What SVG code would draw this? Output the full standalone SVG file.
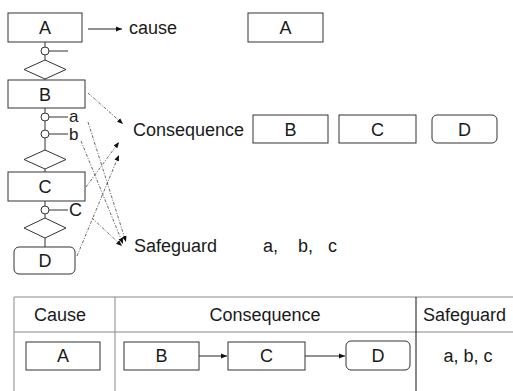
<svg xmlns="http://www.w3.org/2000/svg" width="513" height="391" viewBox="0 0 513 391">
  <style>
    text { font-family: "Liberation Sans", Arial, sans-serif; font-size: 18px; fill: #1a1a1a; }
    .c { text-anchor: middle; }
    .tag { font-size: 17px; }
    .box { fill: #fff; stroke: #333; stroke-width: 1; }
    .ln { stroke: #333; stroke-width: 1; fill: none; }
    .knot { fill: #fff; stroke: #333; stroke-width: 1; }
    .dash { stroke: #444; stroke-width: 0.8; fill: none; stroke-dasharray: 3 1.5 1 1.5; marker-end: url(#tip); }
    .solid { stroke: #222; stroke-width: 1; fill: none; marker-end: url(#tip); }
    .grid { stroke: #888; stroke-width: 1; }
    .gridk { stroke: #111; stroke-width: 1; }
  </style>
  <defs>
    <marker id="tip" viewBox="0 0 10 10" refX="10" refY="5" markerWidth="6" markerHeight="6" markerUnits="userSpaceOnUse" orient="auto">
      <path d="M0,1 L10,5 L0,9 z" fill="#111"/>
    </marker>
  </defs>

  <!-- left chain: A, B, C, D with safeguard knots and gates -->
  <g id="chain-links">
    <line class="ln" x1="45" y1="42" x2="45" y2="47"/>
    <line class="ln" x1="45" y1="55" x2="45" y2="60"/>
    <line class="ln" x1="49" y1="51" x2="68" y2="51"/>
    <line class="ln" x1="45" y1="79" x2="45" y2="80"/>
    <line class="ln" x1="45" y1="108" x2="45" y2="113"/>
    <line class="ln" x1="49" y1="117" x2="68" y2="117"/>
    <line class="ln" x1="45" y1="121" x2="45" y2="130"/>
    <line class="ln" x1="49" y1="134" x2="68" y2="134"/>
    <line class="ln" x1="45" y1="138" x2="45" y2="150"/>
    <line class="ln" x1="45" y1="169" x2="45" y2="172"/>
    <line class="ln" x1="45" y1="201" x2="45" y2="206"/>
    <line class="ln" x1="49" y1="210" x2="68" y2="210"/>
    <line class="ln" x1="45" y1="214" x2="45" y2="218"/>
    <line class="ln" x1="45" y1="238" x2="45" y2="247"/>
  </g>

  <g id="node-A">
    <rect class="box" x="8" y="13" width="74" height="29"/>
    <text class="c" x="45" y="34">A</text>
  </g>
  <g id="knot-1"><circle class="knot" cx="45" cy="51" r="4"/></g>
  <g id="gate-1"><polygon class="box" points="45,60 66,69.5 45,79 24,69.5"/></g>

  <g id="node-B">
    <rect class="box" x="8" y="80" width="77" height="28"/>
    <text class="c" x="45" y="101">B</text>
  </g>
  <g id="knot-a">
    <circle class="knot" cx="45" cy="117" r="4"/>
    <text class="tag" x="69" y="122">a</text>
  </g>
  <g id="knot-b">
    <circle class="knot" cx="45" cy="134" r="4"/>
    <text class="tag" x="69" y="140">b</text>
  </g>
  <g id="gate-2"><polygon class="box" points="45,150 66,159.5 45,169 24,159.5"/></g>

  <g id="node-C">
    <rect class="box" x="8" y="172" width="77" height="29"/>
    <text class="c" x="45" y="193">C</text>
  </g>
  <g id="knot-c">
    <circle class="knot" cx="45" cy="210" r="4"/>
    <text x="69" y="216">C</text>
  </g>
  <g id="gate-3"><polygon class="box" points="45,218 66,228 45,238 24,228"/></g>

  <g id="node-D">
    <rect class="box" x="14" y="247" width="61" height="27" rx="5"/>
    <text class="c" x="45" y="267">D</text>
  </g>

  <!-- labels and sorted groups -->
  <g id="label-cause"><text x="129" y="34">cause</text></g>
  <g id="label-consequence"><text x="133" y="136">Consequence</text></g>
  <g id="label-safeguard"><text x="134" y="252">Safeguard</text></g>

  <g id="group-A">
    <rect class="box" x="248" y="13" width="75" height="29"/>
    <text class="c" x="285.5" y="34">A</text>
  </g>
  <g id="group-B">
    <rect class="box" x="253" y="115" width="75" height="28"/>
    <text class="c" x="290.5" y="136">B</text>
  </g>
  <g id="group-C">
    <rect class="box" x="339" y="115" width="77" height="28"/>
    <text class="c" x="377.5" y="136">C</text>
  </g>
  <g id="group-D">
    <rect class="box" x="432" y="115" width="65" height="28" rx="5"/>
    <text class="c" x="464.5" y="136">D</text>
  </g>
  <g id="group-abc">
    <text y="252"><tspan x="263">a,</tspan><tspan x="298">b,</tspan><tspan x="328">c</tspan></text>
  </g>

  <!-- connectors -->
  <g id="connectors">
    <line class="solid" x1="88" y1="29" x2="122" y2="29"/>
    <line class="dash" x1="88" y1="93" x2="123" y2="124"/>
    <line class="dash" x1="88" y1="122" x2="126" y2="242"/>
    <line class="dash" x1="81" y1="141" x2="123" y2="244"/>
    <line class="dash" x1="92" y1="218" x2="122" y2="246"/>
    <line class="dash" x1="86" y1="187" x2="119" y2="142"/>
    <line class="dash" x1="77" y1="256" x2="119" y2="155"/>
    <line class="solid" x1="199" y1="356" x2="227" y2="356"/>
    <line class="solid" x1="305" y1="356" x2="345" y2="356"/>
  </g>

  <!-- summary table -->
  <g id="table">
    <line class="grid" x1="14" y1="297" x2="513" y2="297"/>
    <line class="grid" x1="14" y1="332" x2="513" y2="332"/>
    <line class="grid" x1="14" y1="297" x2="14" y2="391"/>
    <line class="grid" x1="115" y1="297" x2="115" y2="391"/>
    <line class="gridk" x1="416" y1="297" x2="416" y2="391"/>
    <text class="c" x="60" y="321">Cause</text>
    <text class="c" x="265" y="321">Consequence</text>
    <text class="c" x="464.5" y="321">Safeguard</text>
    <text class="c" x="468" y="362">a, b, c</text>
  </g>
  <g id="row-A">
    <rect class="box" x="26" y="342" width="74" height="28"/>
    <text class="c" x="63" y="362">A</text>
  </g>
  <g id="row-B">
    <rect class="box" x="124" y="342" width="75" height="28"/>
    <text class="c" x="161.5" y="362">B</text>
  </g>
  <g id="row-C">
    <rect class="box" x="228" y="342" width="77" height="28"/>
    <text class="c" x="266.5" y="362">C</text>
  </g>
  <g id="row-D">
    <rect class="box" x="346" y="341" width="64" height="29" rx="5"/>
    <text class="c" x="378" y="362">D</text>
  </g>
</svg>
